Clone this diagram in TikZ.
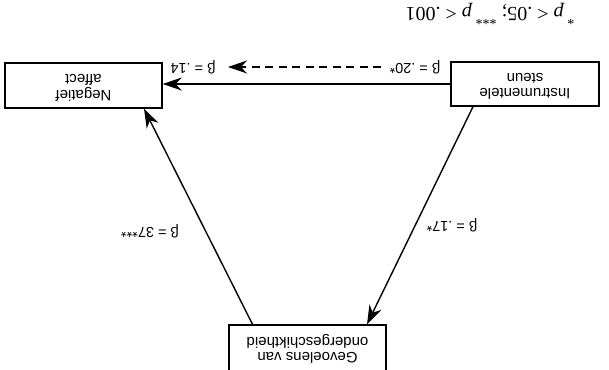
\documentclass[tikz,border=0pt]{standalone}
\usepackage{fontspec}
\setmainfont{Liberation Sans}
\newfontfamily\legendfont{Liberation Serif}
\usetikzlibrary{arrows.meta}
\begin{document}
\begin{tikzpicture}[x=1pt,y=-1pt,
  box/.style={draw,line width=1.4pt,inner sep=0pt,font=\fontsize{15}{15.5}\selectfont},
  lab/.style={inner sep=0pt,font=\fontsize{14.5}{16}\selectfont},
  arr/.style={line width=1.4pt,-{Stealth[length=19pt,width=13pt,inset=6pt]}}]
\useasboundingbox (0,0) rectangle (609,369);
\newcommand{\flip}[1]{\rotatebox{180}{\begin{tabular}{@{}c@{}}#1\end{tabular}}}
\node[box,minimum width=157pt,minimum height=45pt] (neg) at (83.5,85.5) {\flip{Negatief\\affect}};
\node[box,minimum width=148pt,minimum height=44pt] (ins) at (525,84) {\flip{Instrumentele\\steun}};
\node[box,minimum width=157pt,minimum height=46pt] (gev) at (307.5,348) {\flip{Gevoelens van\\ondergeschiktheid}};
\draw[arr] (ins.west) -- (neg.east |- ins.west);
\draw[arr] ([xshift=-55pt]gev.north) -- ([xshift=60.5pt]neg.south);
\draw[arr] ([xshift=-52pt]ins.south) -- ([xshift=59.5pt]gev.north);
\coordinate (d1) at (381,67);
\coordinate (d2) at (228,67);
\draw[arr,line width=1.6pt,dash pattern=on 8pt off 5.5pt] (d1) -- (d2);
\node[lab] (l14) at (193,67) {\rotatebox{180}{β = .14}};
\node[lab] (l20) at (415,67) {\rotatebox{180}{β = .20*}};
\node[lab] (l37) at (150,231) {\rotatebox{180}{β = 37***}};
\node[lab] (l17) at (452,225) {\rotatebox{180}{β = .17*}};
\node[inner sep=0pt,font=\legendfont\fontsize{20}{22}\selectfont] (leg) at (490,14) {\rotatebox{180}{\textsuperscript{*}\,\textit{p} {<} .05; \textsuperscript{***}\,\textit{p} {<} .001}};
\end{tikzpicture}
\end{document}
